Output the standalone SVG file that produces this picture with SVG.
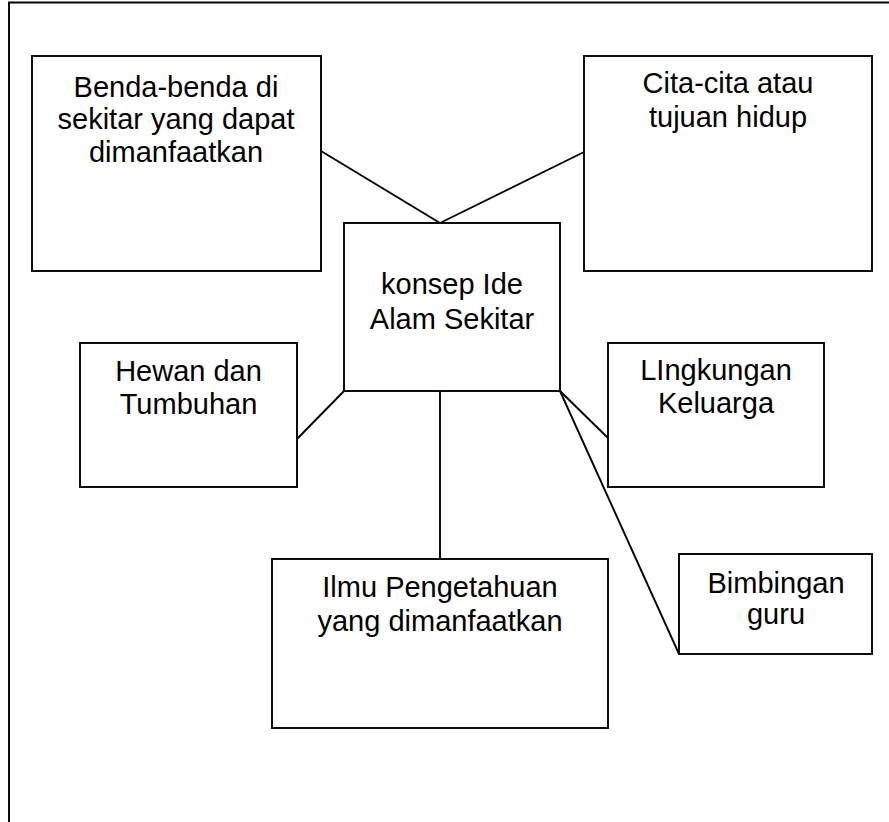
<svg xmlns="http://www.w3.org/2000/svg" width="889" height="822" viewBox="0 0 889 822">
<style>
.box{fill:#fff;stroke:#000;stroke-width:1.9}
.ln{stroke:#000;stroke-width:1.9;fill:none}
text{font-family:"Liberation Sans",Arial,sans-serif;font-size:29px;fill:#000;text-anchor:middle}
</style>
<rect x="0" y="0" width="889" height="822" fill="#fff"/>
<g id="frame"><path class="ln" d="M9,830 V2.5 H895"/></g>
<g id="connectors">
<line class="ln" x1="321" y1="151" x2="440" y2="223"/>
<line class="ln" x1="584" y1="152" x2="440" y2="223"/>
<line class="ln" x1="344" y1="391" x2="297" y2="439"/>
<line class="ln" x1="440" y1="391" x2="440" y2="559"/>
<line class="ln" x1="560" y1="391" x2="608" y2="438"/>
<line class="ln" x1="560" y1="391" x2="679" y2="654"/>
</g>
<g id="benda"><rect class="box" x="32" y="56" width="289" height="215"/>
<text x="176" y="97">Benda-benda di</text><text x="176" y="129">sekitar yang dapat</text><text x="176" y="162">dimanfaatkan</text></g>
<g id="cita"><rect class="box" x="584" y="56" width="288" height="215"/>
<text x="728" y="93">Cita-cita atau</text><text x="728" y="127">tujuan hidup</text></g>
<g id="konsep"><rect class="box" x="344" y="223" width="216" height="168"/>
<text x="452" y="294">konsep Ide</text><text x="452" y="329">Alam Sekitar</text></g>
<g id="hewan"><rect class="box" x="80" y="343" width="217" height="144"/>
<text x="188.5" y="381">Hewan dan</text><text x="188.5" y="414">Tumbuhan</text></g>
<g id="lingkungan"><rect class="box" x="608" y="343" width="216" height="144"/>
<text x="716" y="380">LIngkungan</text><text x="716" y="413">Keluarga</text></g>
<g id="ilmu"><rect class="box" x="272" y="559" width="336" height="169"/>
<text x="440" y="597">Ilmu Pengetahuan</text><text x="440" y="631">yang dimanfaatkan</text></g>
<g id="bimbingan"><rect class="box" x="679" y="554" width="193" height="100"/>
<text x="776" y="593">Bimbingan</text><text x="776" y="624">guru</text></g>
</svg>
